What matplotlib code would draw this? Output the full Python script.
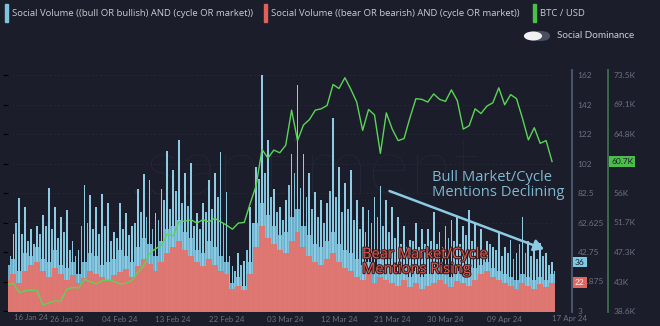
import numpy as np
import pandas as pd
import matplotlib
matplotlib.use("Agg")
import matplotlib.pyplot as plt
import matplotlib.transforms as mtransforms
import matplotlib.patheffects as pe
from matplotlib.patches import Rectangle, FancyBboxPatch, Circle

# Canvas in pixels
W, H = 660, 326
BG = "#1b1d2a"
GRAY = "#6b7080"

# ---- data, one value per day from 16 Jan 24 ----
bull_peak = [48, 55, 79, 73, 58, 60, 68, 86, 73, 66, 71, 50, 44,
             88, 81, 73, 82, 76, 56, 76, 69, 60, 85, 95, 91, 69,
             85, 111, 98, 118, 96, 103, 69, 76, 91, 96, 110, 83,
             33, 42, 37, 73,
             100, 162, 118, 85, 73, 78, 109, 155, 109,
             96, 83, 78, 76, 133, 100, 89,
             98, 78, 73, 71, 80, 87, 78, 73, 66, 60, 51, 62, 58,
             58, 70, 56, 60, 64, 66, 60, 71, 62, 58, 50, 46, 56, 46,
             51, 42, 66, 50, 46, 49, 42, 36]
# secondary spikes, half a day later
bull_mid = [40, 62, 55, 50, 48, 55, 60, 58, 52, 56, 44, 40, 60,
            62, 58, 55, 60, 50, 52, 58, 54, 62, 70, 66, 58, 64,
            78, 72, 84, 76, 74, 60, 58, 70, 72, 80, 62, 40,
            30, 34, 44, 62,
            92, 96, 80, 70, 64, 88, 96, 86, 80,
            72, 66, 62, 84, 80, 70, 72,
            64, 58, 56, 62, 66, 60, 56, 52, 48, 46, 50, 46, 48,
            50, 48, 46, 52, 50, 48, 54, 50, 46, 44, 48, 44, 40, 42,
            38, 48, 42, 40, 38, 40, 34, 30]
bull_low = [34, 38, 30, 42, 40, 46, 38, 36, 44, 34, 32, 36, 28,
            36, 42, 40, 34, 36, 38, 44, 40, 36, 46, 52, 48, 40,
            50, 58, 60, 64, 56, 52, 44, 42, 50, 46, 40, 36,
            22, 26, 20, 36,
            62, 76, 68, 60, 54, 56, 66, 72, 60,
            54, 48, 46, 50, 56, 48, 44,
            42, 38, 34, 36, 30, 38, 34, 30, 28, 32, 26, 30, 26,
            28, 30, 34, 28, 26, 30, 30, 28, 32, 34, 36, 32, 30, 28,
            26, 24, 28, 26, 24, 26, 24, 28]
bear = [24, 28, 22, 30, 34, 36, 30, 26, 32, 28, 24, 27, 22,
        25, 30, 28, 26, 24, 27, 29, 31, 26, 33, 38, 35, 30,
        36, 42, 46, 50, 44, 40, 36, 33, 38, 34, 30, 28,
        18, 20, 17, 28,
        46, 60, 52, 48, 44, 42, 50, 56, 46,
        40, 36, 34, 38, 42, 36, 32,
        30, 26, 24, 28, 22, 26, 24, 22, 20, 24, 19, 22, 18,
        20, 22, 24, 21, 19, 23, 22, 20, 24, 28, 30, 26, 24, 22,
        20, 18, 22, 20, 18, 21, 19, 22]
# BTC / USD in thousands
btc = [42.5, 42.7, 41.3, 41.6, 41.7, 41.6, 39.5, 39.8, 40.1, 40.0,
       41.8, 42.1, 42.0, 43.3, 42.9, 42.6, 43.1, 43.2, 43.0, 42.6,
       42.7, 43.1, 44.3, 45.3, 47.1, 47.8, 48.3, 50.0, 49.7, 51.8,
       51.9, 52.1, 51.6, 52.1, 51.8, 52.3, 51.8, 51.3, 50.7, 51.6,
       51.7, 54.5, 57.1, 62.5, 61.2, 62.4, 62.0, 63.1, 68.3, 63.8,
       66.1, 66.9, 68.3, 68.5, 69.0, 72.1, 71.5, 73.1, 71.4, 69.5,
       65.3, 68.4, 67.6, 61.9, 67.9, 65.5, 63.8, 64.1, 67.2, 70.0,
       69.9, 69.5, 70.7, 69.9, 69.6, 71.3, 69.7, 65.5, 66.0, 68.5,
       67.8, 68.9, 69.4, 71.6, 69.1, 70.6, 70.0, 67.1, 63.9, 65.7,
       63.4, 63.8, 60.7]

start = pd.Timestamp("2024-01-16")
tick_dates = ["2024-01-26", "2024-02-04", "2024-02-13", "2024-02-22",
              "2024-03-03", "2024-03-12", "2024-03-21", "2024-03-30",
              "2024-04-09"]
tick_labels = ["26 Jan 24", "04 Feb 24", "13 Feb 24", "22 Feb 24",
               "03 Mar 24", "12 Mar 24", "21 Mar 24", "30 Mar 24",
               "09 Apr 24"]
first_label, last_label = "16 Jan 24", "17 Apr 24"

vol_ticks = [3, 22.875, 42.75, 62.625, 82.5, 102.375, 122.25, 142.125, 162]
vol_labels = ["3", "22.875", "42.75", "62.625", "82.5", "102", "122", "142", "162"]
# 60.4K sits under the live price badge, so it is not printed
btc_ticks = [38.6, 42.96, 47.33, 51.69, 56.05, 64.78, 69.14, 73.5]
btc_labels = ["38.6K", "43K", "47.3K", "51.7K", "56K", "64.8K", "69.1K", "73.5K"]

days = np.arange(len(bear))

# ---- figure ----
fig = plt.figure(figsize=(W / 100, H / 100), dpi=100, facecolor=BG)
plt.rcParams["font.family"] = ["Lato", "DejaVu Sans"]


def fx(x):
    return x / W


def fy(y):
    return 1 - y / H


ax_l, ax_r, ax_t, ax_b = 7.5, 555, 70, 312
ax = fig.add_axes([fx(ax_l), fy(ax_b), fx(ax_r - ax_l), (ax_b - ax_t) / H])
ax.set_facecolor(BG)

# value axis scaling: 3 -> y=311, 162 -> y=75
per_px = (162 - 3) / (311 - 75)
v_lo = 3 - (ax_b - 311) * per_px
v_hi = 162 + (75 - ax_t) * per_px
k = (73.5 - 38.6) / (162 - 3)
b_lo = 38.6 - (3 - v_lo) * k
b_hi = 73.5 + (v_hi - 162) * k

ax.set_xlim(0, 92.5)
ax.set_ylim(v_lo, v_hi)

# watermark
ax.text(0.54, 0.58, ".santiment", transform=ax.transAxes, fontsize=58,
        color="#242736", ha="center", va="center", zorder=0,
        fontweight="light")

ax.bar(days, bull_low, width=1.0, color="#6aafcc", zorder=2, linewidth=0)
ax.bar(days, bull_peak, width=0.3, color="#8fcce3", zorder=2, linewidth=0)
ax.bar(days + 0.5, bull_mid, width=0.3, color="#80c0d9", zorder=2, linewidth=0)
ax.bar(days, bear, width=1.0, color="#e4736c", alpha=0.95, zorder=3, linewidth=0)

for s in ax.spines.values():
    s.set_visible(False)
ax.set_yticks(vol_ticks)
ax.tick_params(axis="y", left=False, labelleft=False)
ax.grid(axis="y", color="#252939", linestyle=(0, (2, 3)), linewidth=0.6)
ax.set_axisbelow(True)

tick_pos = [(pd.Timestamp(d) - start).days for d in tick_dates]
ax.set_xticks(tick_pos)
ax.set_xticklabels(tick_labels)
ax.tick_params(axis="x", length=0, pad=3, labelsize=5.7, labelcolor=GRAY)
ax.text(fx(14.5), fy(318), first_label, transform=fig.transFigure,
        fontsize=5.7, color=GRAY, ha="left", va="center")
ax.text(fx(552), fy(318), last_label, transform=fig.transFigure,
        fontsize=5.7, color=GRAY, ha="left", va="center")

# social volume scale
ax2 = ax.twinx()
ax2.set_ylim(v_lo, v_hi)
ax2.set_yticks(vol_ticks)
ax2.set_yticklabels(vol_labels)
for name, s in ax2.spines.items():
    s.set_visible(name == "right")
ax2.spines["right"].set_position(("outward", 17 * 0.72))
ax2.spines["right"].set_color("#4d5b70")
ax2.spines["right"].set_linewidth(1.3)
ax2.tick_params(axis="y", length=0, pad=4, labelsize=6.0, labelcolor=GRAY)

# BTC scale
ax3 = ax.twinx()
ax3.set_ylim(b_lo, b_hi)
ax3.set_yticks(btc_ticks)
ax3.set_yticklabels(btc_labels)
for name, s in ax3.spines.items():
    s.set_visible(name == "right")
ax3.spines["right"].set_position(("outward", 53 * 0.72))
ax3.spines["right"].set_color("#3e6e4c")
ax3.spines["right"].set_linewidth(1.3)
ax3.tick_params(axis="y", length=0, pad=4, labelsize=6.0, labelcolor=GRAY)
ax3.plot(days, btc, color="#5bd457", linewidth=1.0, zorder=5)
ax3.set_xlim(0, 92.5)

# last value badges
bt2 = mtransforms.blended_transform_factory(fig.transFigure, ax2.transData)
bt3 = mtransforms.blended_transform_factory(fig.transFigure, ax3.transData)
fig.text(fx(575), bull_peak[-1], str(bull_peak[-1]), transform=bt2, fontsize=6.0,
         color=BG, va="center", ha="left",
         bbox=dict(boxstyle="square,pad=0.22", fc="#7dcbe2", ec="none"))
fig.text(fx(575), bear[-1], str(bear[-1]), transform=bt2, fontsize=6.0,
         color="#f4f4f4", va="center", ha="left",
         bbox=dict(boxstyle="square,pad=0.22", fc="#e2655e", ec="none"))
fig.text(fx(611), btc[-1], f"{btc[-1]}K", transform=bt3, fontsize=6.0,
         color=BG, va="center", ha="left",
         bbox=dict(boxstyle="square,pad=0.22", fc="#4cbc4c", ec="none"))

# annotations
ax.annotate("", xy=(91.1, 44), xytext=(64.1, 84.5),
            arrowprops=dict(arrowstyle="-|>,head_length=0.6,head_width=0.35",
                            color="#8ccbe2", lw=1.8), zorder=6)
ax.text(71.7, 98, "Bull Market/Cycle\nMentions Declining", color="#7fb9cf",
        fontsize=10.6, family=["Open Sans", "DejaVu Sans"], va="top", ha="left",
        linespacing=1.0, zorder=6)
ax.text(59.9, 46, "Bear Market/Cycle\nMentions Rising", color="#e0574f",
        fontsize=10.6, family=["Open Sans", "DejaVu Sans"], va="top", ha="left",
        linespacing=1.0, zorder=6,
        path_effects=[pe.withStroke(linewidth=1.5, foreground="#3a1a1c")])

# legend row
legend = [(5, "#7fc3dc", "Social Volume ((bull OR bullish) AND (cycle OR market))"),
          (264, "#e0605a", "Social Volume ((bear OR bearish) AND (cycle OR market))"),
          (533, "#4cbf4a", "BTC / USD")]
for x0, col, label in legend:
    fig.patches.append(Rectangle((fx(x0), fy(22)), fx(3), 18 / H, color=col,
                                 transform=fig.transFigure))
    fig.text(fx(x0 + 7), fy(13), label, fontsize=6.8, color="#c9ccd3",
             va="center", ha="left", family=["Open Sans", "DejaVu Sans"])

fig.patches.append(FancyBboxPatch((fx(528), fy(41)), fx(22), 10 / H,
                                  boxstyle="round,pad=0,rounding_size=0.015",
                                  fc="#4a4f60", ec="none", transform=fig.transFigure))
fig.patches.append(Circle((fx(533), fy(36)), 4.5 / H, fc="#f2f2f2", ec="none",
                          transform=fig.transFigure))
fig.text(fx(557), fy(36), "Social Dominance", fontsize=7.1, color="#c9ccd3",
         va="center", ha="left")

fig.savefig("out.png", dpi=100, facecolor=BG)
